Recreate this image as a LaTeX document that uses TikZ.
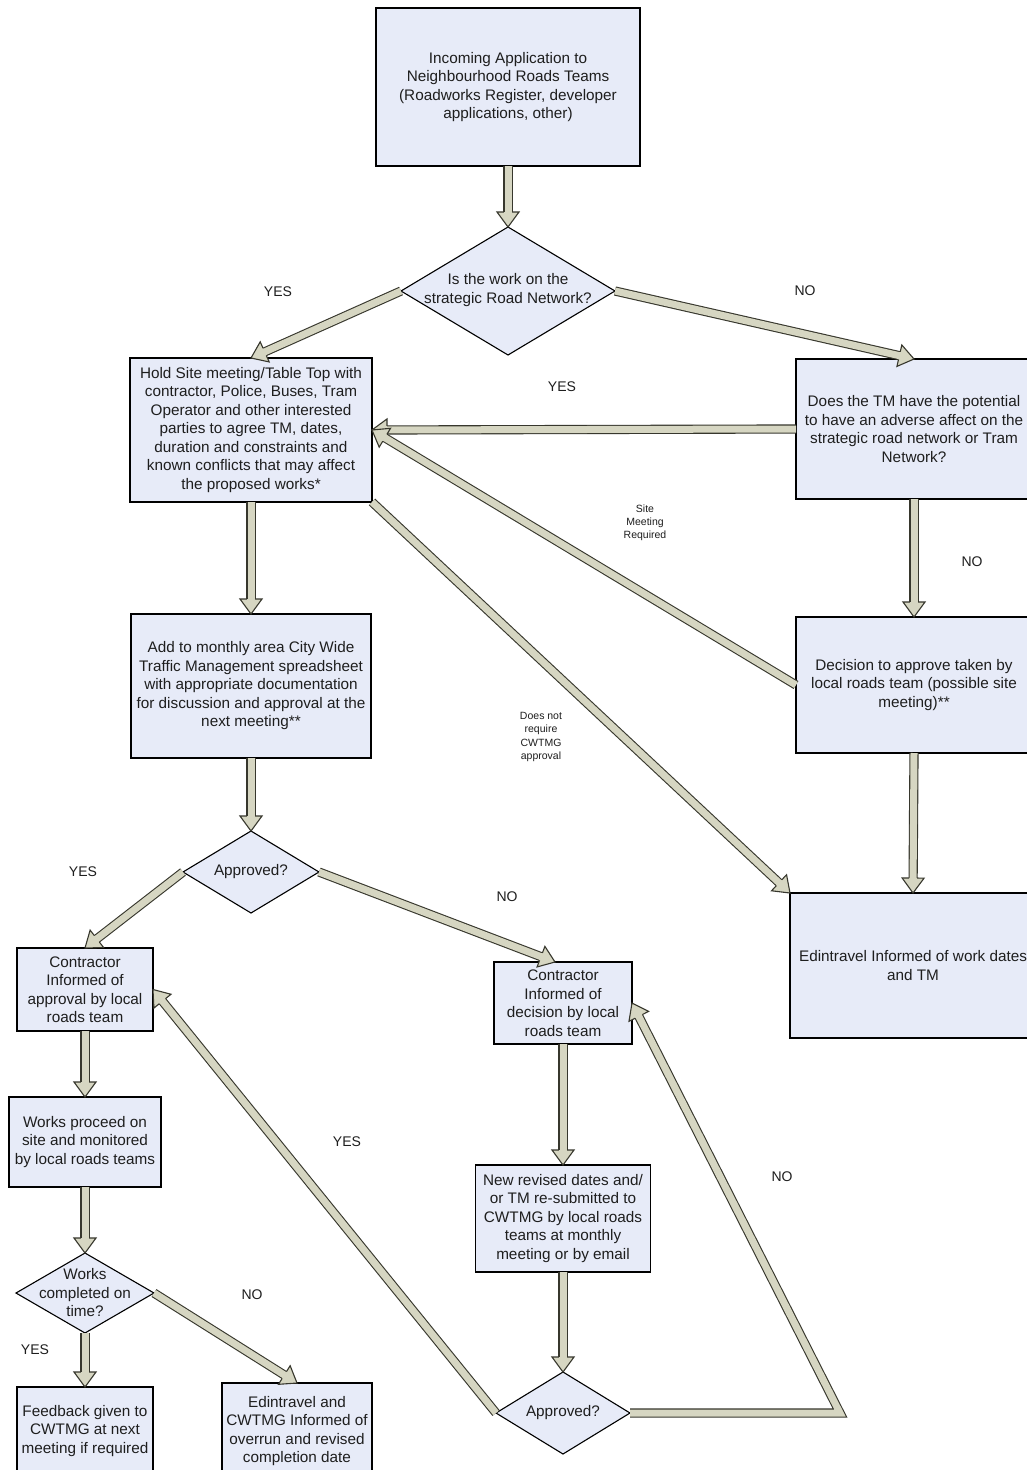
\documentclass[tikz,border=0pt]{standalone}
\usepackage{fontspec}
\setmainfont{Liberation Sans}
\usetikzlibrary{calc,shapes.geometric}
\definecolor{boxfill}{RGB}{231,235,248}
\definecolor{arrfill}{RGB}{214,214,194}
\definecolor{arrline}{RGB}{55,55,45}
\definecolor{txtcol}{RGB}{30,30,30}
\tikzset{
 box/.style={draw=black, line width=1.3pt, fill=boxfill, rectangle, inner sep=0pt, outer sep=0pt, align=center, text=txtcol, font=\fontsize{15.3}{18.5}\selectfont},
 dia/.style={draw=black, line width=1.1pt, fill=boxfill, diamond, inner sep=0pt, outer sep=0pt},
 diatext/.style={align=center, text=txtcol, inner sep=0pt, font=\fontsize{15.3}{18.5}\selectfont},
 lab/.style={text=txtcol, inner sep=0pt, font=\fontsize{14}{17}\selectfont},
 smalllab/.style={align=center, text=txtcol, inner sep=0pt, font=\fontsize{10.5}{13.2}\selectfont},
 arrshaft/.style={draw=arrline, double=arrfill, double distance=7pt, line width=1.1pt, line join=miter},
 arrhead/.style={draw=arrline, fill=arrfill, line width=1.1pt, line join=miter},
}
\newcommand\blockarrow[2]{%
  \coordinate (bh) at ($(#2)!15pt!(#1)$);
  \draw[arrshaft] (#1) -- ($(#2)!14.5pt!(#1)$);
  \filldraw[arrhead] ($(bh)!4.05pt!90:(#2)$) -- ($(bh)!11pt!90:(#2)$) -- (#2) -- ($(bh)!11pt!-90:(#2)$) -- ($(bh)!4.05pt!-90:(#2)$);
}
\newcommand\blockarrowvia[3]{%
  \coordinate (bh) at ($(#3)!15pt!(#2)$);
  \draw[arrshaft] (#1) -- (#2) -- ($(#3)!14.5pt!(#2)$);
  \filldraw[arrhead] ($(bh)!4.05pt!90:(#3)$) -- ($(bh)!11pt!90:(#3)$) -- (#3) -- ($(bh)!11pt!-90:(#3)$) -- ($(bh)!4.05pt!-90:(#3)$);
}
\begin{document}
\begin{tikzpicture}[x=1pt,y=-1pt]
\useasboundingbox (0,0) rectangle (1027,1470);
\fill[white] (0,0) rectangle (1027,1470);
\clip (0,0) rectangle (1027,1470);

% nodes
\node[box, minimum width=264pt, minimum height=158pt] (inc) at (508,87) {Incoming Application to\\Neighbourhood Roads Teams\\(Roadworks Register, developer\\applications, other)};
\node[dia, minimum width=214pt, minimum height=128pt] (d1) at (508,291) {};
\node[diatext] (d1t) at (508,290) {Is the work on the\\strategic Road Network?};
\node[box, minimum width=242pt, minimum height=144pt] (hold) at (251,430) {Hold Site meeting/Table Top with\\contractor, Police, Buses, Tram\\Operator and other interested\\parties to agree TM, dates,\\duration and constraints and\\known conflicts that may affect\\the proposed works*};
\node[box, minimum width=236pt, minimum height=140pt] (tm) at (914,429) {Does the TM have the potential\\to have an adverse affect on the\\strategic road network or Tram\\Network?};
\node[box, minimum width=240pt, minimum height=144pt] (add) at (251,686) {Add to monthly area City Wide\\Traffic Management spreadsheet\\with appropriate documentation\\for discussion and approval at the\\next meeting**};
\node[box, minimum width=236pt, minimum height=136pt] (dec) at (914,685) {Decision to approve taken by\\local roads team (possible site\\meeting)**};
\node[box, minimum width=246pt, minimum height=145pt] (edin) at (913,965.5) {Edintravel Informed of work dates\\and TM};
\node[dia, minimum width=136pt, minimum height=82pt] (d2) at (251,872) {};
\node[diatext] (d2t) at (251,872) {Approved?};
\node[box, minimum width=136pt, minimum height=83pt] (c1) at (85,989.5) {Contractor\\Informed of\\approval by local\\roads team};
\node[box, minimum width=138pt, minimum height=82pt] (c2) at (563,1003) {Contractor\\Informed of\\decision by local\\roads team};
\node[box, minimum width=152pt, minimum height=90pt] (works) at (85,1142) {Works proceed on\\site and monitored\\by local roads teams};
\node[dia, minimum width=138pt, minimum height=80pt] (d4) at (85,1293) {};
\node[diatext] (d4t) at (85,1293) {Works\\completed on\\time?};
\node[box, minimum width=136pt, minimum height=88pt] (fb) at (85,1431) {Feedback given to\\CWTMG at next\\meeting if required};
\node[box, minimum width=150pt, minimum height=96pt] (ed2) at (297,1431) {Edintravel and\\CWTMG Informed of\\overrun and revised\\completion date};
\node[box, minimum width=175pt, minimum height=107pt] (new) at (563,1218.5) {New revised dates and/\\or TM re-submitted to\\CWTMG by local roads\\teams at monthly\\meeting or by email};
\node[dia, minimum width=134pt, minimum height=82pt] (d3) at (563,1413) {};
\node[diatext] (d3t) at (563,1413) {Approved?};
\coordinate (k) at (840,1413);
\coordinate (c2n) at ($(c2.north)+(-8,0)$);

% labels
\node[lab] (l1) at (278,292) {YES};
\node[lab] (l2) at (805,291) {NO};
\node[lab] (l3) at (562,387) {YES};
\node[lab] (l4) at (972,562) {NO};
\node[lab] (l5) at (83,872) {YES};
\node[lab] (l6) at (507,897) {NO};
\node[lab] (l7) at (347,1142) {YES};
\node[lab] (l8) at (782,1177) {NO};
\node[lab] (l9) at (252,1295) {NO};
\node[lab] (l10) at (35,1350) {YES};
\node[smalllab] (s1) at (645,523) {Site\\Meeting\\Required};
\node[smalllab] (s2) at (541,737) {Does not\\require\\CWTMG\\approval};

% arrows
\blockarrow{inc.south}{d1.north}
\blockarrow{d1.west}{hold.north}
\blockarrow{d1.east}{tm.north}
\blockarrow{tm.west}{hold.east}
\blockarrow{hold.south}{add.north}
\blockarrow{tm.south}{dec.north}
\blockarrow{dec.west}{hold.east}
\blockarrow{hold.south east}{edin.north west}
\blockarrow{add.south}{d2.north}
\blockarrow{dec.south}{edin.north}
\blockarrow{d2.west}{c1.north}
\blockarrow{d2.east}{c2n}
\blockarrow{c1.south}{works.north}
\blockarrow{works.south}{d4.north}
\blockarrow{d4.south}{fb.north}
\blockarrow{d4.east}{ed2.north}
\blockarrow{c2.south}{new.north}
\blockarrow{new.south}{d3.north}
\blockarrow{d3.west}{c1.east}
\blockarrowvia{d3.east}{k}{c2.east}
\end{tikzpicture}
\end{document}
